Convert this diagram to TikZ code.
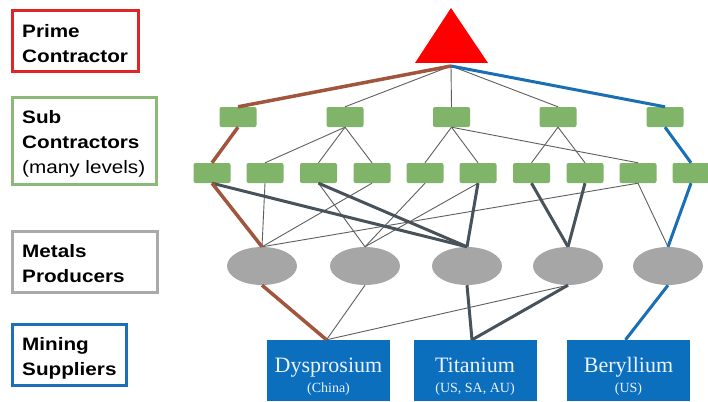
\documentclass[tikz,border=0pt]{standalone}
\usepackage{fontspec}
\setmainfont{Liberation Serif}
\newfontfamily\lblfont[FakeStretch=1.15]{Liberation Sans}
\usetikzlibrary{shapes.geometric}
\definecolor{boxgreen}{RGB}{128,180,104}
\definecolor{ellgray}{RGB}{166,166,166}
\definecolor{boxblue}{RGB}{11,111,190}
\definecolor{trired}{RGB}{255,0,0}
\definecolor{bordred}{RGB}{222,38,38}
\definecolor{bordgreen}{RGB}{140,185,120}
\definecolor{bordgray}{RGB}{170,170,170}
\definecolor{bordblue}{RGB}{30,112,182}
\definecolor{brownline}{RGB}{160,85,60}
\definecolor{blueline}{RGB}{25,110,180}
\definecolor{darkline}{RGB}{72,82,90}
\definecolor{thinline}{RGB}{95,95,95}
\definecolor{textwhite}{RGB}{235,242,255}
\tikzset{
  subbox/.style={draw=none,fill=boxgreen,rounded corners=2pt,minimum width=37pt,minimum height=20pt,inner sep=0pt},
  metal/.style={ellipse,fill=ellgray,draw=none,minimum width=70pt,minimum height=38pt,inner sep=0pt},
  mine/.style={fill=boxblue,draw=none,minimum width=123pt,minimum height=61pt,inner sep=0pt},
  lblbox/.style={draw,line width=3pt,fill=white,inner sep=0pt},
  lbltext/.style={anchor=base west,inner sep=0pt,font=\lblfont\bfseries\fontsize{18}{22}\selectfont},
  lblplain/.style={anchor=base west,inner sep=0pt,font=\lblfont\fontsize{18}{22}\selectfont},
  minename/.style={anchor=base,inner sep=0pt,text=textwhite,font=\fontsize{22}{24}\selectfont},
  minesub/.style={anchor=base,inner sep=0pt,text=textwhite,font=\fontsize{14}{16}\selectfont},
  thin/.style={draw=thinline,line width=0.9pt},
  thick/.style={draw=darkline,line width=3pt},
  brownpath/.style={draw=brownline,line width=3.5pt},
  bluepath/.style={draw=blueline,line width=3pt},
}
\begin{document}
\begin{tikzpicture}[x=1pt,y=-1pt]
\useasboundingbox (0,0) rectangle (708,401);
\clip (0,0) rectangle (708,401);
\fill[white] (0,0) rectangle (708,401);

% legend boxes
\node[lblbox,draw=bordred,minimum width=126pt,minimum height=61pt] (lp) at (75,41.5) {};
\node[lbltext] (lp1) at (22,37.5) {Prime};
\node[lbltext] (lp2) at (22,62.5) {Contractor};

\node[lblbox,draw=bordgreen,minimum width=144pt,minimum height=86pt] (ls) at (84,141) {};
\node[lbltext] (ls1) at (22,123) {Sub};
\node[lbltext] (ls2) at (22,148) {Contractors};
\node[lblplain] (ls3) at (22,173) {(many levels)};

\node[lblbox,draw=bordgray,minimum width=145pt,minimum height=61pt] (lm) at (84.5,261.5) {};
\node[lbltext] (lm1) at (22,257) {Metals};
\node[lbltext] (lm2) at (22,282) {Producers};

\node[lblbox,draw=bordblue,minimum width=114pt,minimum height=61pt] (ln) at (69,354.5) {};
\node[lbltext] (ln1) at (22,350) {Mining};
\node[lbltext] (ln2) at (22,375) {Suppliers};

% prime contractor triangle
\fill[trired] (451,8) -- (488,63) -- (415,63) -- cycle;
\coordinate (tp) at (451,66);

% sub contractors row 1
\node[subbox] (r1a) at (238,117) {};
\node[subbox] (r1b) at (345,117) {};
\node[subbox] (r1c) at (451.5,117) {};
\node[subbox] (r1d) at (558,117) {};
\node[subbox] (r1e) at (665,117) {};

% sub contractors row 2
\node[subbox] (r2a) at (212,173) {};
\node[subbox] (r2b) at (265,173) {};
\node[subbox] (r2c) at (318.5,173) {};
\node[subbox] (r2d) at (372,173) {};
\node[subbox] (r2e) at (425,173) {};
\node[subbox] (r2f) at (478,173) {};
\node[subbox] (r2g) at (531.5,173) {};
\node[subbox] (r2h) at (585,173) {};
\node[subbox] (r2i) at (638,173) {};
\node[subbox] (r2j) at (691,173) {};

% metals producers
\node[metal] (e1) at (262,266) {};
\node[metal] (e2) at (365,266) {};
\node[metal] (e3) at (467,266) {};
\node[metal] (e4) at (568,266) {};
\node[metal] (e5) at (668,266) {};

% mining suppliers
\node[mine] (dy) at (328.5,370.5) {};
\node[minename] (dyn) at (328.5,372) {Dysprosium};
\node[minesub] (dys) at (328.5,392) {(China)};
\node[mine] (ti) at (475,370.5) {};
\node[minename] (tin) at (475,372) {Titanium};
\node[minesub] (tis) at (475,392) {(US, SA, AU)};
\node[mine] (be) at (628.5,370.5) {};
\node[minename] (ben) at (628.5,372) {Beryllium};
\node[minesub] (bes) at (628.5,392) {(US)};

% triangle to row 1
\draw[thin] (tp) -- (r1b.north);
\draw[thin] (tp) -- (r1c.north);
\draw[thin] (tp) -- (r1d.north);
\draw[brownpath] (tp) -- (r1a.north);
\draw[bluepath] (tp) -- (r1e.north);

% row 1 to row 2
\draw[brownpath] (r1a.south) -- (r2a.north);
\draw[thin] (r1b.south) -- (r2b.north);
\draw[thin] (r1b.south) -- (r2c.north);
\draw[thin] (r1b.south) -- (r2d.north);
\draw[thin] (r1c.south) -- (r2e.north);
\draw[thin] (r1c.south) -- (r2f.north);
\draw[thin] (r1c.south) -- (r2i.north);
\draw[thin] (r1d.south) -- (r2g.north);
\draw[thin] (r1d.south) -- (r2h.north);
\draw[bluepath] (r1e.south) -- (r2j.north);

% row 2 to metals producers
\draw[thin] (r2b.south) -- (e1.north);
\draw[thin] (r2d.south) -- (e1.north);
\draw[thin] (r2i.south) -- (e1.north);
\draw[thin] (r2c.south) -- (e2.north);
\draw[thin] (r2e.south) -- (e2.north);
\draw[thin] (r2f.south) -- (e2.north);
\draw[thin] (r2i.south) -- (e5.north);
\draw[thick] (r2a.south) -- (e3.north);
\draw[thick] (r2c.south) -- (e3.north);
\draw[thick] (r2f.south) -- (e3.north);
\draw[thick] (r2g.south) -- (e4.north);
\draw[thick] (r2h.south) -- (e4.north);
\draw[brownpath] (r2a.south) -- (e1.north);
\draw[bluepath] (r2j.south) -- (e5.north);

% metals producers to mining suppliers
\draw[thin] (e2.south) -- ([xshift=-2pt]dy.north);
\draw[thin] (e4.south) -- ([xshift=-2pt]dy.north);
\draw[brownpath] (e1.south) -- ([xshift=-2pt]dy.north);
\draw[thick] (e3.south) -- ([xshift=-3pt]ti.north);
\draw[thick] (e4.south) -- ([xshift=-3pt]ti.north);
\draw[bluepath] (e5.south) -- ([xshift=-3pt]be.north);
\end{tikzpicture}
\end{document}
